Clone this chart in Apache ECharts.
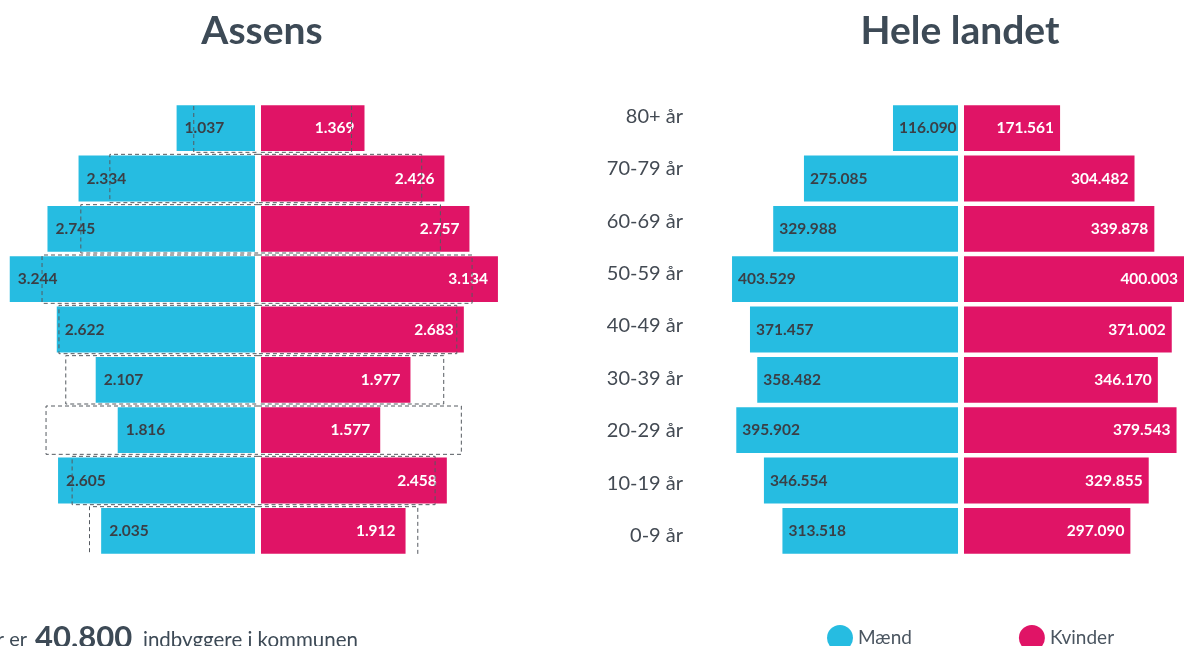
<!DOCTYPE html>
<html>
<head>
    <meta charset="UTF-8">
    <script src="https://cdn.jsdelivr.net/npm/echarts@6/dist/echarts.min.js"></script>
    <style>
        html, body { margin:0; padding:0; background:#fff; }
        #main { width:1184px; height:646px; }
    </style>
</head>
<body>
<div id="main"></div>
<script>
    // aldersgrupper, oeverst til nederst
    var aldersgrupper = ['80+ år','70-79 år','60-69 år','50-59 år','40-49 år','30-39 år','20-29 år','10-19 år','0-9 år'];

    // Assens
    var assensMaend   = [1037, 2334, 2745, 3244, 2622, 2107, 1816, 2605, 2035];
    var assensKvinder = [1369, 2426, 2757, 3134, 2683, 1977, 1577, 2458, 1912];

    // hele landet omregnet til Assens' stoerrelse (stiplede kasser)
    var landNiveauMaend   = [810, 1920, 2304, 2817, 2593, 2503, 2764, 2419, 2189];
    var landNiveauKvinder = [1198, 2126, 2373, 2792, 2590, 2417, 2650, 2303, 2074];

    // Hele landet
    var landMaend   = [116090, 275085, 329988, 403529, 371457, 358482, 395902, 346554, 313518];
    var landKvinder = [171561, 304482, 339878, 400003, 371002, 346170, 379543, 329855, 297090];

    var BLAA = '#26bce1';
    var PINK = '#e01466';
    var TEKST = '#3d4a56';
    var FONT = 'Lato, "Open Sans", sans-serif';

    function fmt(v){
        return String(v).replace(/\B(?=(\d{3})+(?!\d))/g, '.');
    }

    // stiplet kasse, side = -1 for maend (venstre), 1 for kvinder
    // oeverste kasse har ingen top, nederste ingen bund (som i originalen)
    function kasse(side){
        return function(params, api){
            var idx = api.value(1);
            var p0 = api.coord([0, idx]);
            var p1 = api.coord([api.value(0), idx]);
            var h = api.size([0, 1])[1];
            var top = p0[1] - h/2 + 1, bund = p0[1] + h/2 - 1;
            var midt = p0[0] - side*3;
            var pts;
            if (idx === 0) {
                pts = [[p1[0], top + 2], [p1[0], bund], [midt, bund]];
            } else if (idx === aldersgrupper.length - 1) {
                pts = [[midt, top], [p1[0], top], [p1[0], bund]];
            } else {
                pts = [[midt, top], [p1[0], top], [p1[0], bund], [midt, bund]];
            }
            return {
                type: 'polyline',
                shape: { points: pts },
                style: { fill: null, stroke: '#555a60', lineWidth: 1, lineDash: [4, 3] },
                z2: 10
            };
        };
    }

    var gridTop = 103, gridH = 453;

    var chart = echarts.init(document.getElementById('main'));
    chart.setOption({
        animation: false,
        textStyle: { fontFamily: FONT },
        legend: {
            data: ['Mænd', 'Kvinder'],
            left: 822, top: 620,
            icon: 'circle',
            itemWidth: 26, itemHeight: 26,
            itemGap: 107,
            textStyle: { fontSize: 19, color: '#4a5560', fontFamily: FONT }
        },
        grid: [
            { left: 0,   top: gridTop, width: 255, height: gridH },
            { left: 261, top: gridTop, width: 255, height: gridH },
            { left: 706, top: gridTop, width: 252, height: gridH },
            { left: 964, top: gridTop, width: 220, height: gridH },
            { left: 683, top: 90, width: 10, height: 472 }
        ],
        xAxis: [
            { gridIndex: 0, type: 'value', min: 0, max: 3373, inverse: true, show: false },
            { gridIndex: 1, type: 'value', min: 0, max: 3373, show: false },
            { gridIndex: 2, type: 'value', min: 0, max: 450000, inverse: true, show: false },
            { gridIndex: 3, type: 'value', min: 0, max: 392857, show: false },
            { gridIndex: 4, type: 'value', min: 0, max: 1, show: false }
        ],
        yAxis: [0, 1, 2, 3].map(function(i){
            return { gridIndex: i, type: 'category', data: aldersgrupper, inverse: true, show: false };
        }).concat([{
            gridIndex: 4, type: 'category', data: aldersgrupper, inverse: true,
            axisLine: { show: false }, axisTick: { show: false },
            axisLabel: { margin: 0, fontSize: 20, color: '#434a53', fontFamily: FONT }
        }]),
        series: [
            {
                name: 'Mænd', type: 'bar', xAxisIndex: 0, yAxisIndex: 0,
                data: assensMaend, barCategoryGap: '9%',
                itemStyle: { color: BLAA },
                label: { show: true, position: 'insideLeft', distance: 8, color: '#3a3f46',
                    fontSize: 15.5, fontWeight: 'bold', fontFamily: FONT,
                    formatter: function(p){ return fmt(p.value); } }
            },
            {
                name: 'Kvinder', type: 'bar', xAxisIndex: 1, yAxisIndex: 1,
                data: assensKvinder, barCategoryGap: '9%',
                itemStyle: { color: PINK },
                label: { show: true, position: 'insideRight', distance: 10, color: '#fff',
                    fontSize: 15.5, fontWeight: 'bold', fontFamily: FONT,
                    formatter: function(p){ return fmt(p.value); } }
            },
            {
                type: 'custom', xAxisIndex: 0, yAxisIndex: 0, z: 5, clip: false,
                data: landNiveauMaend.map(function(v, i){ return [v, i]; }),
                encode: { x: 0, y: 1 },
                renderItem: kasse(-1)
            },
            {
                type: 'custom', xAxisIndex: 1, yAxisIndex: 1, z: 5, clip: false,
                data: landNiveauKvinder.map(function(v, i){ return [v, i]; }),
                encode: { x: 0, y: 1 },
                renderItem: kasse(1)
            },
            {
                name: 'Mænd', type: 'bar', xAxisIndex: 2, yAxisIndex: 2,
                data: landMaend, barCategoryGap: '9%',
                itemStyle: { color: BLAA },
                label: { show: true, position: 'insideLeft', distance: 6, color: '#3a3f46',
                    fontSize: 15.5, fontWeight: 'bold', fontFamily: FONT,
                    formatter: function(p){ return fmt(p.value); } }
            },
            {
                name: 'Kvinder', type: 'bar', xAxisIndex: 3, yAxisIndex: 3,
                data: landKvinder, barCategoryGap: '9%',
                itemStyle: { color: PINK },
                label: { show: true, position: 'insideRight', distance: 6, color: '#fff',
                    fontSize: 15.5, fontWeight: 'bold', fontFamily: FONT,
                    formatter: function(p){ return fmt(p.value); } }
            }
        ],
        graphic: [
            { type: 'text', x: 262, y: 31, style: { text: 'Assens', fontSize: 39, fontWeight: 'bold',
                fontFamily: FONT, fill: TEKST, textAlign: 'center', textVerticalAlign: 'middle' } },
            { type: 'text', x: 960, y: 31, style: { text: 'Hele landet', fontSize: 39, fontWeight: 'bold',
                fontFamily: FONT, fill: TEKST, textAlign: 'center', textVerticalAlign: 'middle' } },
            { type: 'text', x: 27, y: 640, style: { text: 'Der er', fontSize: 20,
                fontFamily: FONT, fill: TEKST, textAlign: 'right', textVerticalAlign: 'middle' } },
            { type: 'text', x: 35, y: 638, style: { text: '40.800', fontSize: 31, fontWeight: 'bold',
                fontFamily: FONT, fill: TEKST, textAlign: 'left', textVerticalAlign: 'middle' } },
            { type: 'text', x: 143, y: 640, style: { text: 'indbyggere i kommunen', fontSize: 20.5,
                fontFamily: FONT, fill: TEKST, textAlign: 'left', textVerticalAlign: 'middle' } }
        ]
    });
</script>
</body>
</html>
